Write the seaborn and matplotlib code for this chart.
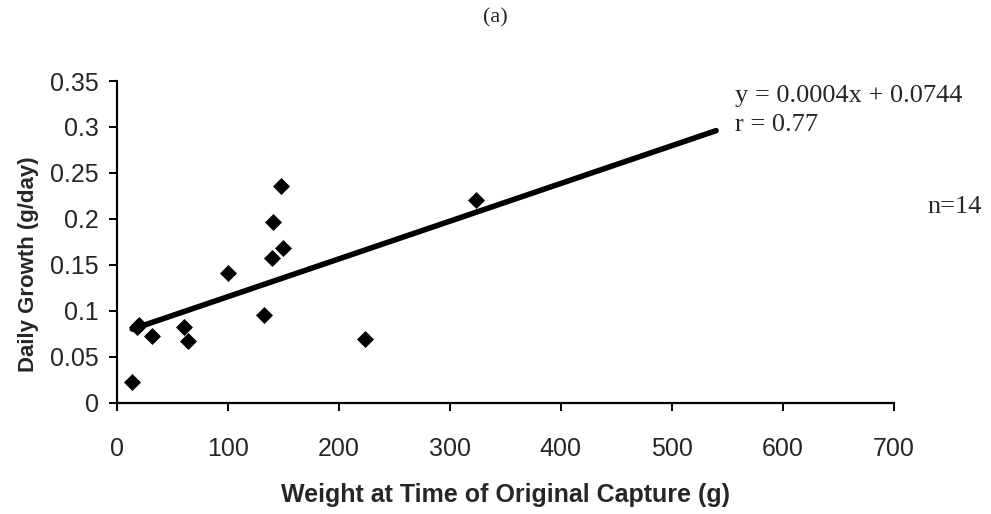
import matplotlib
matplotlib.use("Agg")
import matplotlib.pyplot as plt
import seaborn as sns
import pandas as pd

# data
weight_g = [14, 18, 20, 32, 61, 64, 100, 133, 140, 141, 148, 150, 224, 324]
growth_g_day = [0.022, 0.082, 0.085, 0.073, 0.082, 0.067, 0.141, 0.095, 0.157, 0.197, 0.236, 0.168, 0.069, 0.220]
trend_x = [14, 540]
trend_y = [0.080, 0.296]
x_ticks = [0, 100, 200, 300, 400, 500, 600, 700]
y_ticks = [0, 0.05, 0.1, 0.15, 0.2, 0.25, 0.3, 0.35]
y_tick_labels = ["0", "0.05", "0.1", "0.15", "0.2", "0.25", "0.3", "0.35"]

df = pd.DataFrame({"w": weight_g, "g": growth_g_day})
tr = pd.DataFrame({"x": trend_x, "y": trend_y})

sns.set_style("white")
plt.rcParams["font.family"] = ["Liberation Sans", "DejaVu Sans"]

fig = plt.figure(figsize=(9.91, 5.14), dpi=100)
ax = fig.add_axes([0.1178, 0.2165, 0.9018 - 0.1178, 0.8424 - 0.2165])

sns.lineplot(data=tr, x="x", y="y", ax=ax, color="black", linewidth=4, zorder=2)
sns.scatterplot(data=df, x="w", y="g", ax=ax, marker="D", s=75, color="black",
                edgecolor="black", linewidth=0, zorder=3)

ax.set_xlim(0, 700)
ax.set_ylim(0, 0.35)
ax.set_xticks(x_ticks)
ax.set_xticklabels([str(v) for v in x_ticks], fontsize=18)
ax.set_yticks(y_ticks)
ax.set_yticklabels(y_tick_labels, fontsize=18)

for s in ["top", "right"]:
    ax.spines[s].set_visible(False)
for s in ["left", "bottom"]:
    ax.spines[s].set_color("black")
    ax.spines[s].set_linewidth(1.6)

ax.tick_params(axis="x", direction="out", length=6, width=1.4, color="black", pad=19, bottom=True)
ax.tick_params(axis="y", direction="out", length=6, width=1.4, color="black", pad=7, left=True)

ax.set_xlabel("Weight at Time of Original Capture (g)", fontsize=18, fontweight="bold", va="center")
ax.xaxis.set_label_coords(0.5, -0.287)
ax.set_ylabel("Daily Growth (g/day)", fontsize=16, fontweight="bold", va="center")
ax.yaxis.set_label_coords(-0.1135, 0.43)

fig.text(0.5, 0.966, "(a)", ha="center", va="center", fontsize=16, family=["Liberation Serif"])
fig.text(0.7417, 1 - 96 / 514, "y = 0.0004x + 0.0744", ha="left", va="center", fontsize=19,
         family=["Liberation Serif"])
fig.text(0.7417, 1 - 125 / 514, "r = 0.77", ha="left", va="center", fontsize=19,
         family=["Liberation Serif"])
fig.text(0.9355, 1 - 207 / 514, "n=14", ha="left", va="center", fontsize=19,
         family=["Liberation Serif"])

fig.savefig("out.png", dpi=100, facecolor="white")
